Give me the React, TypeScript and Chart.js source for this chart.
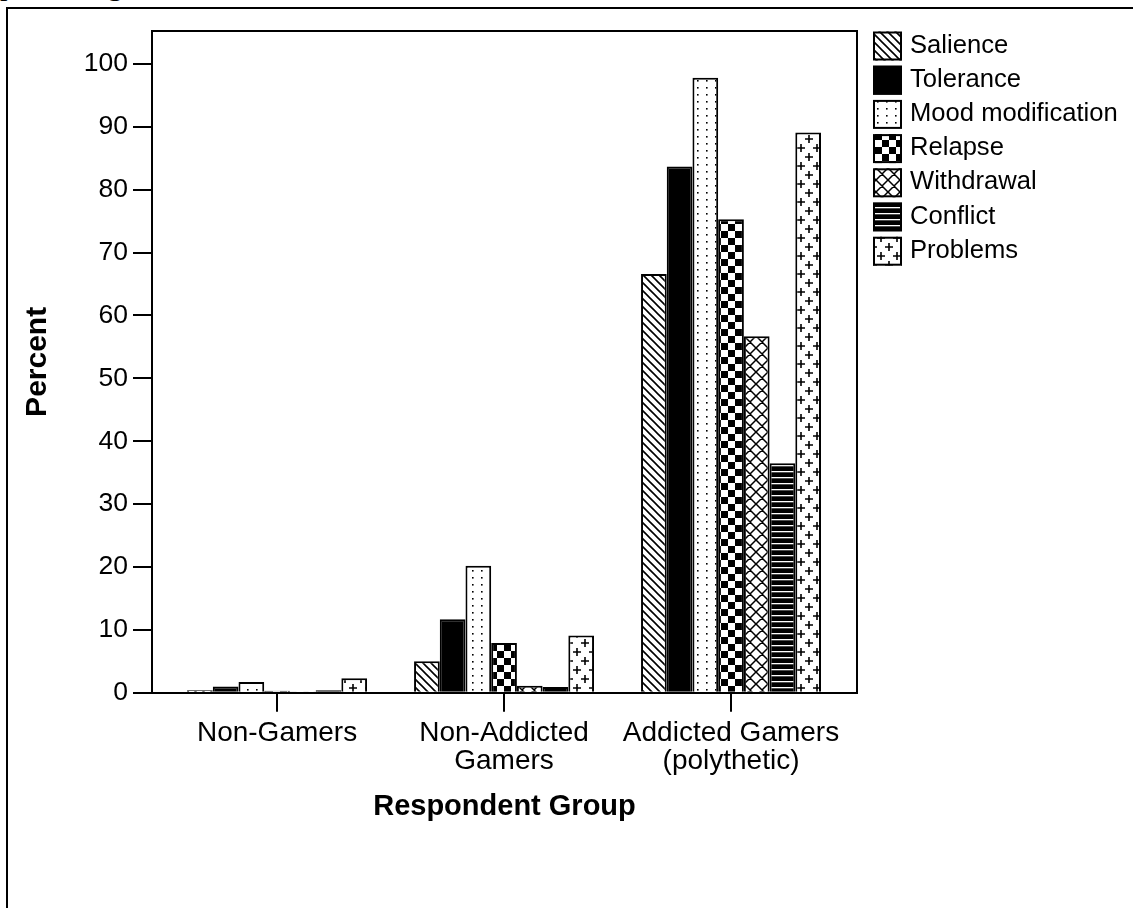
import React, { useEffect, useRef } from 'react';
import { Chart, registerables } from 'chart.js';

Chart.register(...registerables);

// ---- data ----
const categories: string[][] = [['Non-Gamers'], ['Non-Addicted', 'Gamers'], ['Addicted Gamers', '(polythetic)']];
const seriesNames = ['Salience', 'Tolerance', 'Mood modification', 'Relapse', 'Withdrawal', 'Conflict', 'Problems'];
const salience = [0.4, 5.0, 66.6];
const tolerance = [1.0, 11.7, 83.7];
const moodModification = [1.7, 20.2, 97.8];
const relapse = [0.3, 7.9, 75.3];
const withdrawal = [0.2, 1.1, 56.7];
const conflict = [0.4, 0.9, 36.5];
const problems = [2.3, 9.1, 89.1];
const yTicks = [0, 10, 20, 30, 40, 50, 60, 70, 80, 90, 100];
const xAxisTitle = 'Respondent Group';
const yAxisTitle = 'Percent';

const seriesValues = [salience, tolerance, moodModification, relapse, withdrawal, conflict, problems];

function makeTile(w: number, h: number, draw: (c: CanvasRenderingContext2D) => void): CanvasPattern | string {
  const cv = document.createElement('canvas');
  cv.width = w;
  cv.height = h;
  const c = cv.getContext('2d');
  if (!c) return '#fff';
  c.fillStyle = '#fff';
  c.fillRect(0, 0, w, h);
  c.strokeStyle = '#000';
  c.fillStyle = '#000';
  draw(c);
  const ctx = document.createElement('canvas').getContext('2d');
  const p = ctx ? ctx.createPattern(cv, 'repeat') : null;
  return p || '#fff';
}

function makePatterns(): (CanvasPattern | string)[] {
  const diag = makeTile(8, 8, (c) => {
    c.lineWidth = 1.6;
    c.beginPath();
    for (let k = -8; k <= 16; k += 8) {
      c.moveTo(k - 1, -1);
      c.lineTo(k + 9, 9);
    }
    c.stroke();
  });
  const solid = '#000';
  const dots = makeTile(9, 7, (c) => {
    c.fillRect(4, 3, 1.6, 1.6);
  });
  const checker = makeTile(14, 14, (c) => {
    c.fillRect(0, 0, 7, 7);
    c.fillRect(7, 7, 7, 7);
  });
  const cross = makeTile(12, 12, (c) => {
    c.lineWidth = 1.5;
    c.beginPath();
    for (let k = -12; k <= 24; k += 12) {
      c.moveTo(k - 1, -1);
      c.lineTo(k + 13, 13);
      c.moveTo(k + 13, -1);
      c.lineTo(k - 1, 13);
    }
    c.stroke();
  });
  const hlines = makeTile(6, 6, (c) => {
    c.fillRect(0, 0, 6, 6);
    c.fillStyle = '#fff';
    c.fillRect(0, 3, 6, 1.3);
  });
  const plus = makeTile(16, 18, (c) => {
    c.lineWidth = 1.6;
    const pts = [[1, 4], [17, 4], [-15, 4], [9, 13], [9, -5], [1, 22], [17, 22], [9, 31]];
    c.beginPath();
    pts.forEach(([x, y]) => {
      c.moveTo(x - 4, y);
      c.lineTo(x + 4, y);
      c.moveTo(x, y - 4);
      c.lineTo(x, y + 4);
    });
    c.stroke();
  });
  return [diag, solid, dots, checker, cross, hlines, plus];
}

const decorPlugin = {
  id: 'decor',
  afterDraw(chart: any) {
    const { ctx, chartArea: a } = chart;
    ctx.save();
    ctx.strokeStyle = '#000';
    ctx.lineWidth = 2;
    ctx.beginPath();
    ctx.moveTo(a.left, a.top);
    ctx.lineTo(a.right, a.top);
    ctx.lineTo(a.right, a.bottom);
    ctx.stroke();
    // legend
    const x0 = a.right + 16;
    chart.data.datasets.forEach((ds: any, i: number) => {
      const top = a.top + 0.5 + i * 34.2;
      ctx.fillStyle = ds.backgroundColor;
      ctx.fillRect(x0, top, 29, 29);
      ctx.lineWidth = 2;
      ctx.strokeRect(x0 + 1, top + 1, 27, 27);
      ctx.fillStyle = '#000';
      ctx.font = '25.6px "Liberation Sans", Arial, sans-serif';
      ctx.textBaseline = 'alphabetic';
      ctx.textAlign = 'left';
      ctx.fillText(ds.label, x0 + 37, top + 21);
    });
    ctx.restore();
  },
};

export default function App() {
  const ref = useRef<HTMLCanvasElement | null>(null);

  useEffect(() => {
    if (!ref.current) return;
    const patterns = makePatterns();
    const datasets = seriesNames.map((name, i) => ({
      label: name,
      data: seriesValues[i].map((v, j) => ({ x: j, y: v })),
      backgroundColor: patterns[i] as any,
      borderColor: '#000',
      borderWidth: 2,
      categoryPercentage: 180 / 227,
      barPercentage: 1,
    }));
    const chart = new Chart(ref.current, {
      type: 'bar',
      data: { datasets },
      plugins: [decorPlugin],
      options: {
        animation: false,
        responsive: false,
        devicePixelRatio: 1,
        layout: { padding: { left: 0, top: 31, right: 276, bottom: 0 } },
        plugins: { legend: { display: false }, tooltip: { enabled: false } },
        scales: {
          x: {
            type: 'linear',
            min: -0.551,
            max: 2.555,
            offset: false,
            afterBuildTicks: (s: any) => {
              s.ticks = categories.map((_, i) => ({ value: i }));
            },
            afterFit: (s: any) => {
              s.height = 908 - 692.7;
            },
            grid: {
              offset: false,
              drawOnChartArea: false,
              drawTicks: true,
              tickLength: 19,
              color: '#000',
              lineWidth: 2,
            },
            border: { display: true, color: '#000', width: 2 },
            ticks: {
              autoSkip: false,
              maxRotation: 0,
              color: '#000',
              padding: 7,
              font: { family: '"Liberation Sans", Arial, sans-serif', size: 28, lineHeight: 1.01 },
              callback: (v: any) => categories[Math.round(Number(v))] || '',
            },
            title: {
              display: true,
              text: xAxisTitle,
              color: '#000',
              font: { family: '"Liberation Sans", Arial, sans-serif', size: 29, weight: 'bold', lineHeight: 1.2 },
              padding: { top: 0, bottom: 84 },
            },
          },
          y: {
            type: 'linear',
            min: 0,
            max: 105.25,
            afterBuildTicks: (s: any) => {
              s.ticks = yTicks.map((v) => ({ value: v }));
            },
            afterFit: (s: any) => {
              s.width = 152;
            },
            grid: {
              drawOnChartArea: false,
              drawTicks: true,
              tickLength: 19,
              color: '#000',
              lineWidth: 2,
            },
            border: { display: true, color: '#000', width: 2 },
            ticks: {
              color: '#000',
              padding: 5,
              font: { family: '"Liberation Sans", Arial, sans-serif', size: 26.5 },
            },
            title: {
              display: true,
              text: yAxisTitle,
              color: '#000',
              font: { family: '"Liberation Sans", Arial, sans-serif', size: 30, weight: 'bold', lineHeight: 1.2 },
              padding: { top: 20, bottom: 0 },
            },
          },
        },
      } as any,
    });
    return () => chart.destroy();
  }, []);

  return (
    <div style={{ position: 'fixed', left: 0, top: 0, width: 1133, height: 908, overflow: 'hidden', background: '#fff' }}>
      <div
        style={{
          position: 'absolute',
          left: 0,
          top: -30,
          fontFamily: '"Liberation Serif", "Times New Roman", serif',
          fontSize: 30,
          lineHeight: '30px',
          whiteSpace: 'nowrap',
          color: '#000',
        }}
      >
        problem gamers
      </div>
      <div
        style={{
          position: 'absolute',
          left: 6,
          top: 7,
          width: 1133 - 6,
          height: 908 - 7,
          borderLeft: '2px solid #000',
          borderTop: '2px solid #000',
          boxSizing: 'border-box',
        }}
      />
      <canvas ref={ref} width={1133} height={908} style={{ position: 'absolute', left: 0, top: 0, width: 1133, height: 908 }} />
    </div>
  );
}
